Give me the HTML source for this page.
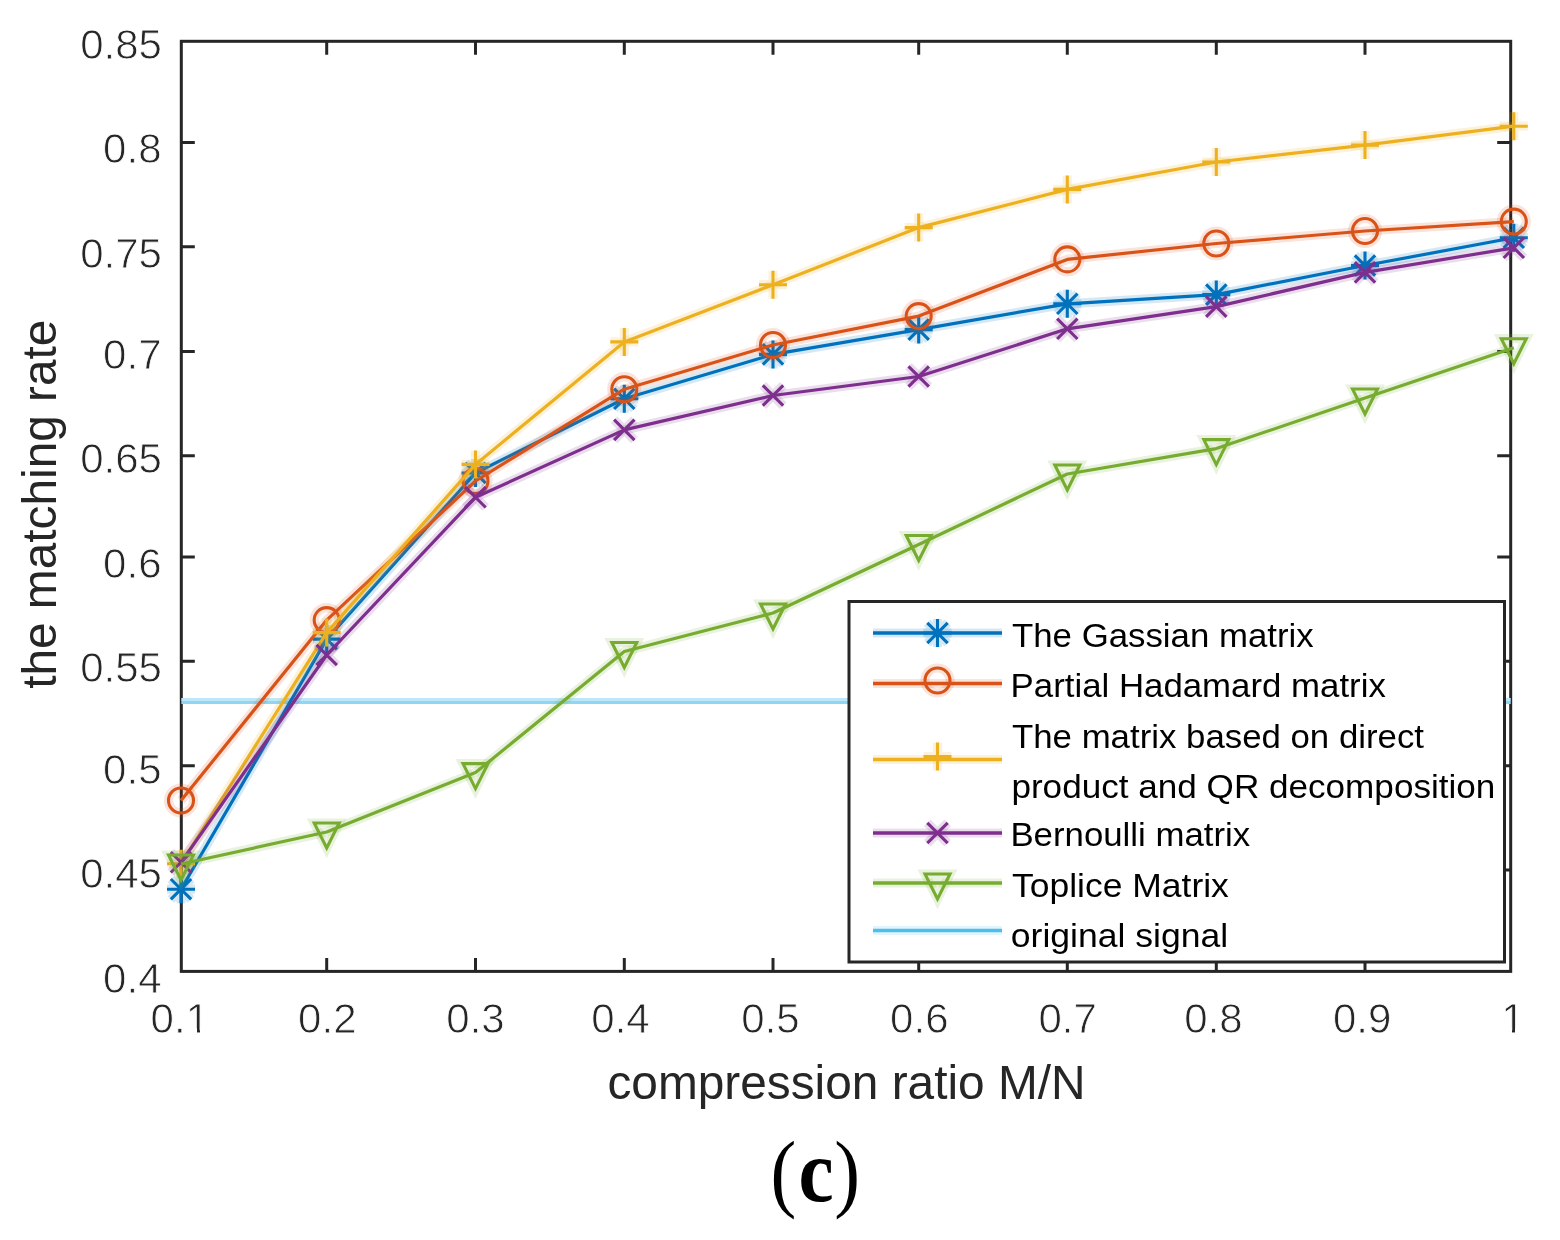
<!DOCTYPE html>
<html lang="en"><head><meta charset="utf-8"><title>Matching rate vs compression ratio (c)</title>
<style>
html,body{margin:0;padding:0;background:#fff;}
body{width:1560px;height:1240px;overflow:hidden;}
svg{display:block;}
text{font-family:"Liberation Sans",Arial,Helvetica,sans-serif;}
.tick{font-size:42px;fill:#262626;stroke:#fff;stroke-width:0.8px;}
.lab{font-size:47.8px;fill:#262626;}
.leg{font-size:33.8px;fill:#000;}
.cap{font-family:"Liberation Serif","DejaVu Serif",serif;font-size:88px;fill:#000;}
</style></head><body>
<svg width="1560" height="1240" viewBox="0 0 1560 1240" role="img" aria-label="The matching rate versus compression ratio M/N for six measurement matrices, panel (c)">
<rect x="0" y="0" width="1560" height="1240" fill="#ffffff"/>
<g id="chart">
<g id="axes" stroke="#262626" stroke-width="3" fill="none">
<rect x="181.3" y="41.3" width="1329.4" height="930.1"/>
<path d="M326.7 971.4v-13.5M326.7 41.3v13.5M475.5 971.4v-13.5M475.5 41.3v13.5M624.3 971.4v-13.5M624.3 41.3v13.5M773.0 971.4v-13.5M773.0 41.3v13.5M918.7 971.4v-13.5M918.7 41.3v13.5M1067.3 971.4v-13.5M1067.3 41.3v13.5M1216.3 971.4v-13.5M1216.3 41.3v13.5M1365.0 971.4v-13.5M1365.0 41.3v13.5M181.3 142.6h13.5M1510.7 142.6h-13.5M181.3 246.8h13.5M181.3 351.4h13.5M1510.7 351.4h-13.5M181.3 455.7h13.5M1510.7 455.7h-13.5M181.3 557.0h13.5M1510.7 557.0h-13.5M181.3 661.2h13.5M1510.7 661.2h-13.5M181.3 765.7h13.5M1510.7 765.7h-13.5M1510.7 870.1h-13.5"/>
</g>
<rect x="181.3" y="698" width="1329.4" height="3" fill="#BDE6F8"/>
<rect x="181.3" y="701" width="1329.4" height="3" fill="#8FD5F4"/>
<g id="series" fill="none" stroke-linejoin="round">
<g id="series-blue">
<polyline points="181.0,889.2 326.7,639.1 475.5,473.0 624.3,398.8 773.0,354.4 918.7,329.6 1067.3,303.8 1216.3,294.6 1365.0,265.5 1513.8,237.8" stroke="#0072BD" stroke-width="9.2" stroke-opacity="0.16"/>
<polyline points="181.0,889.2 326.7,639.1 475.5,473.0 624.3,398.8 773.0,354.4 918.7,329.6 1067.3,303.8 1216.3,294.6 1365.0,265.5 1513.8,237.8" stroke="#0072BD" stroke-width="3.2"/>
<path d="M181.0 875.2V903.2M167.0 889.2H195.0M170.8 879.0L191.2 899.4M170.8 899.4L191.2 879.0" stroke="#0072BD" stroke-width="9.2" stroke-opacity="0.16" fill="none"/><path d="M181.0 875.2V903.2M167.0 889.2H195.0M170.8 879.0L191.2 899.4M170.8 899.4L191.2 879.0" stroke="#0072BD" stroke-width="3.1" fill="none"/>
<path d="M326.7 625.1V653.1M312.7 639.1H340.7M316.5 628.9L336.9 649.3M316.5 649.3L336.9 628.9" stroke="#0072BD" stroke-width="9.2" stroke-opacity="0.16" fill="none"/><path d="M326.7 625.1V653.1M312.7 639.1H340.7M316.5 628.9L336.9 649.3M316.5 649.3L336.9 628.9" stroke="#0072BD" stroke-width="3.1" fill="none"/>
<path d="M475.5 459.0V487.0M461.5 473.0H489.5M465.3 462.8L485.7 483.2M465.3 483.2L485.7 462.8" stroke="#0072BD" stroke-width="9.2" stroke-opacity="0.16" fill="none"/><path d="M475.5 459.0V487.0M461.5 473.0H489.5M465.3 462.8L485.7 483.2M465.3 483.2L485.7 462.8" stroke="#0072BD" stroke-width="3.1" fill="none"/>
<path d="M624.3 384.8V412.8M610.3 398.8H638.3M614.1 388.6L634.5 409.0M614.1 409.0L634.5 388.6" stroke="#0072BD" stroke-width="9.2" stroke-opacity="0.16" fill="none"/><path d="M624.3 384.8V412.8M610.3 398.8H638.3M614.1 388.6L634.5 409.0M614.1 409.0L634.5 388.6" stroke="#0072BD" stroke-width="3.1" fill="none"/>
<path d="M773.0 340.4V368.4M759.0 354.4H787.0M762.8 344.2L783.2 364.6M762.8 364.6L783.2 344.2" stroke="#0072BD" stroke-width="9.2" stroke-opacity="0.16" fill="none"/><path d="M773.0 340.4V368.4M759.0 354.4H787.0M762.8 344.2L783.2 364.6M762.8 364.6L783.2 344.2" stroke="#0072BD" stroke-width="3.1" fill="none"/>
<path d="M918.7 315.6V343.6M904.7 329.6H932.7M908.5 319.4L928.9 339.8M908.5 339.8L928.9 319.4" stroke="#0072BD" stroke-width="9.2" stroke-opacity="0.16" fill="none"/><path d="M918.7 315.6V343.6M904.7 329.6H932.7M908.5 319.4L928.9 339.8M908.5 339.8L928.9 319.4" stroke="#0072BD" stroke-width="3.1" fill="none"/>
<path d="M1067.3 289.8V317.8M1053.3 303.8H1081.3M1057.1 293.6L1077.5 314.0M1057.1 314.0L1077.5 293.6" stroke="#0072BD" stroke-width="9.2" stroke-opacity="0.16" fill="none"/><path d="M1067.3 289.8V317.8M1053.3 303.8H1081.3M1057.1 293.6L1077.5 314.0M1057.1 314.0L1077.5 293.6" stroke="#0072BD" stroke-width="3.1" fill="none"/>
<path d="M1216.3 280.6V308.6M1202.3 294.6H1230.3M1206.1 284.4L1226.5 304.8M1206.1 304.8L1226.5 284.4" stroke="#0072BD" stroke-width="9.2" stroke-opacity="0.16" fill="none"/><path d="M1216.3 280.6V308.6M1202.3 294.6H1230.3M1206.1 284.4L1226.5 304.8M1206.1 304.8L1226.5 284.4" stroke="#0072BD" stroke-width="3.1" fill="none"/>
<path d="M1365.0 251.5V279.5M1351.0 265.5H1379.0M1354.8 255.3L1375.2 275.7M1354.8 275.7L1375.2 255.3" stroke="#0072BD" stroke-width="9.2" stroke-opacity="0.16" fill="none"/><path d="M1365.0 251.5V279.5M1351.0 265.5H1379.0M1354.8 255.3L1375.2 275.7M1354.8 275.7L1375.2 255.3" stroke="#0072BD" stroke-width="3.1" fill="none"/>
<path d="M1513.8 223.8V251.8M1499.8 237.8H1527.8M1503.6 227.6L1524.0 248.0M1503.6 248.0L1524.0 227.6" stroke="#0072BD" stroke-width="9.2" stroke-opacity="0.16" fill="none"/><path d="M1513.8 223.8V251.8M1499.8 237.8H1527.8M1503.6 227.6L1524.0 248.0M1503.6 248.0L1524.0 227.6" stroke="#0072BD" stroke-width="3.1" fill="none"/>
</g>
<g id="series-orange">
<polyline points="181.0,800.5 326.7,620.1 475.5,481.0 624.3,389.2 773.0,345.0 918.7,316.1 1067.3,259.4 1216.3,243.5 1365.0,231.0 1513.8,221.6" stroke="#D95319" stroke-width="9.2" stroke-opacity="0.16"/>
<polyline points="181.0,800.5 326.7,620.1 475.5,481.0 624.3,389.2 773.0,345.0 918.7,316.1 1067.3,259.4 1216.3,243.5 1365.0,231.0 1513.8,221.6" stroke="#D95319" stroke-width="3.2"/>
<circle cx="181.0" cy="800.5" r="12.5" stroke="#D95319" stroke-width="9.2" stroke-opacity="0.16" fill="none"/><circle cx="181.0" cy="800.5" r="12.5" stroke="#D95319" stroke-width="3.1" fill="none"/>
<circle cx="326.7" cy="620.1" r="12.5" stroke="#D95319" stroke-width="9.2" stroke-opacity="0.16" fill="none"/><circle cx="326.7" cy="620.1" r="12.5" stroke="#D95319" stroke-width="3.1" fill="none"/>
<circle cx="475.5" cy="481.0" r="12.5" stroke="#D95319" stroke-width="9.2" stroke-opacity="0.16" fill="none"/><circle cx="475.5" cy="481.0" r="12.5" stroke="#D95319" stroke-width="3.1" fill="none"/>
<circle cx="624.3" cy="389.2" r="12.5" stroke="#D95319" stroke-width="9.2" stroke-opacity="0.16" fill="none"/><circle cx="624.3" cy="389.2" r="12.5" stroke="#D95319" stroke-width="3.1" fill="none"/>
<circle cx="773.0" cy="345.0" r="12.5" stroke="#D95319" stroke-width="9.2" stroke-opacity="0.16" fill="none"/><circle cx="773.0" cy="345.0" r="12.5" stroke="#D95319" stroke-width="3.1" fill="none"/>
<circle cx="918.7" cy="316.1" r="12.5" stroke="#D95319" stroke-width="9.2" stroke-opacity="0.16" fill="none"/><circle cx="918.7" cy="316.1" r="12.5" stroke="#D95319" stroke-width="3.1" fill="none"/>
<circle cx="1067.3" cy="259.4" r="12.5" stroke="#D95319" stroke-width="9.2" stroke-opacity="0.16" fill="none"/><circle cx="1067.3" cy="259.4" r="12.5" stroke="#D95319" stroke-width="3.1" fill="none"/>
<circle cx="1216.3" cy="243.5" r="12.5" stroke="#D95319" stroke-width="9.2" stroke-opacity="0.16" fill="none"/><circle cx="1216.3" cy="243.5" r="12.5" stroke="#D95319" stroke-width="3.1" fill="none"/>
<circle cx="1365.0" cy="231.0" r="12.5" stroke="#D95319" stroke-width="9.2" stroke-opacity="0.16" fill="none"/><circle cx="1365.0" cy="231.0" r="12.5" stroke="#D95319" stroke-width="3.1" fill="none"/>
<circle cx="1513.8" cy="221.6" r="12.5" stroke="#D95319" stroke-width="9.2" stroke-opacity="0.16" fill="none"/><circle cx="1513.8" cy="221.6" r="12.5" stroke="#D95319" stroke-width="3.1" fill="none"/>
</g>
<g id="series-yellow">
<polyline points="181.0,863.7 326.7,632.6 475.5,464.4 624.3,341.9 773.0,284.7 918.7,227.6 1067.3,189.4 1216.3,162.0 1365.0,145.1 1513.8,126.2" stroke="#EDB120" stroke-width="9.2" stroke-opacity="0.16"/>
<polyline points="181.0,863.7 326.7,632.6 475.5,464.4 624.3,341.9 773.0,284.7 918.7,227.6 1067.3,189.4 1216.3,162.0 1365.0,145.1 1513.8,126.2" stroke="#EDB120" stroke-width="3.2"/>
<path d="M181.0 849.7V877.7M167.0 863.7H195.0" stroke="#EDB120" stroke-width="9.2" stroke-opacity="0.16" fill="none"/><path d="M181.0 849.7V877.7M167.0 863.7H195.0" stroke="#EDB120" stroke-width="3.1" fill="none"/>
<path d="M326.7 618.6V646.6M312.7 632.6H340.7" stroke="#EDB120" stroke-width="9.2" stroke-opacity="0.16" fill="none"/><path d="M326.7 618.6V646.6M312.7 632.6H340.7" stroke="#EDB120" stroke-width="3.1" fill="none"/>
<path d="M475.5 450.4V478.4M461.5 464.4H489.5" stroke="#EDB120" stroke-width="9.2" stroke-opacity="0.16" fill="none"/><path d="M475.5 450.4V478.4M461.5 464.4H489.5" stroke="#EDB120" stroke-width="3.1" fill="none"/>
<path d="M624.3 327.9V355.9M610.3 341.9H638.3" stroke="#EDB120" stroke-width="9.2" stroke-opacity="0.16" fill="none"/><path d="M624.3 327.9V355.9M610.3 341.9H638.3" stroke="#EDB120" stroke-width="3.1" fill="none"/>
<path d="M773.0 270.7V298.7M759.0 284.7H787.0" stroke="#EDB120" stroke-width="9.2" stroke-opacity="0.16" fill="none"/><path d="M773.0 270.7V298.7M759.0 284.7H787.0" stroke="#EDB120" stroke-width="3.1" fill="none"/>
<path d="M918.7 213.6V241.6M904.7 227.6H932.7" stroke="#EDB120" stroke-width="9.2" stroke-opacity="0.16" fill="none"/><path d="M918.7 213.6V241.6M904.7 227.6H932.7" stroke="#EDB120" stroke-width="3.1" fill="none"/>
<path d="M1067.3 175.4V203.4M1053.3 189.4H1081.3" stroke="#EDB120" stroke-width="9.2" stroke-opacity="0.16" fill="none"/><path d="M1067.3 175.4V203.4M1053.3 189.4H1081.3" stroke="#EDB120" stroke-width="3.1" fill="none"/>
<path d="M1216.3 148.0V176.0M1202.3 162.0H1230.3" stroke="#EDB120" stroke-width="9.2" stroke-opacity="0.16" fill="none"/><path d="M1216.3 148.0V176.0M1202.3 162.0H1230.3" stroke="#EDB120" stroke-width="3.1" fill="none"/>
<path d="M1365.0 131.1V159.1M1351.0 145.1H1379.0" stroke="#EDB120" stroke-width="9.2" stroke-opacity="0.16" fill="none"/><path d="M1365.0 131.1V159.1M1351.0 145.1H1379.0" stroke="#EDB120" stroke-width="3.1" fill="none"/>
<path d="M1513.8 112.2V140.2M1499.8 126.2H1527.8" stroke="#EDB120" stroke-width="9.2" stroke-opacity="0.16" fill="none"/><path d="M1513.8 112.2V140.2M1499.8 126.2H1527.8" stroke="#EDB120" stroke-width="3.1" fill="none"/>
</g>
<g id="series-purple">
<polyline points="181.0,862.3 326.7,655.0 475.5,497.3 624.3,429.9 773.0,395.5 918.7,376.5 1067.3,328.8 1216.3,306.6 1365.0,272.4 1513.8,247.8" stroke="#7E2F8E" stroke-width="9.2" stroke-opacity="0.16"/>
<polyline points="181.0,862.3 326.7,655.0 475.5,497.3 624.3,429.9 773.0,395.5 918.7,376.5 1067.3,328.8 1216.3,306.6 1365.0,272.4 1513.8,247.8" stroke="#7E2F8E" stroke-width="3.2"/>
<path d="M170.8 852.1L191.2 872.5M170.8 872.5L191.2 852.1" stroke="#7E2F8E" stroke-width="9.2" stroke-opacity="0.16" fill="none"/><path d="M170.8 852.1L191.2 872.5M170.8 872.5L191.2 852.1" stroke="#7E2F8E" stroke-width="3.1" fill="none"/>
<path d="M316.5 644.8L336.9 665.2M316.5 665.2L336.9 644.8" stroke="#7E2F8E" stroke-width="9.2" stroke-opacity="0.16" fill="none"/><path d="M316.5 644.8L336.9 665.2M316.5 665.2L336.9 644.8" stroke="#7E2F8E" stroke-width="3.1" fill="none"/>
<path d="M465.3 487.1L485.7 507.5M465.3 507.5L485.7 487.1" stroke="#7E2F8E" stroke-width="9.2" stroke-opacity="0.16" fill="none"/><path d="M465.3 487.1L485.7 507.5M465.3 507.5L485.7 487.1" stroke="#7E2F8E" stroke-width="3.1" fill="none"/>
<path d="M614.1 419.7L634.5 440.1M614.1 440.1L634.5 419.7" stroke="#7E2F8E" stroke-width="9.2" stroke-opacity="0.16" fill="none"/><path d="M614.1 419.7L634.5 440.1M614.1 440.1L634.5 419.7" stroke="#7E2F8E" stroke-width="3.1" fill="none"/>
<path d="M762.8 385.3L783.2 405.7M762.8 405.7L783.2 385.3" stroke="#7E2F8E" stroke-width="9.2" stroke-opacity="0.16" fill="none"/><path d="M762.8 385.3L783.2 405.7M762.8 405.7L783.2 385.3" stroke="#7E2F8E" stroke-width="3.1" fill="none"/>
<path d="M908.5 366.3L928.9 386.7M908.5 386.7L928.9 366.3" stroke="#7E2F8E" stroke-width="9.2" stroke-opacity="0.16" fill="none"/><path d="M908.5 366.3L928.9 386.7M908.5 386.7L928.9 366.3" stroke="#7E2F8E" stroke-width="3.1" fill="none"/>
<path d="M1057.1 318.6L1077.5 339.0M1057.1 339.0L1077.5 318.6" stroke="#7E2F8E" stroke-width="9.2" stroke-opacity="0.16" fill="none"/><path d="M1057.1 318.6L1077.5 339.0M1057.1 339.0L1077.5 318.6" stroke="#7E2F8E" stroke-width="3.1" fill="none"/>
<path d="M1206.1 296.4L1226.5 316.8M1206.1 316.8L1226.5 296.4" stroke="#7E2F8E" stroke-width="9.2" stroke-opacity="0.16" fill="none"/><path d="M1206.1 296.4L1226.5 316.8M1206.1 316.8L1226.5 296.4" stroke="#7E2F8E" stroke-width="3.1" fill="none"/>
<path d="M1354.8 262.2L1375.2 282.6M1354.8 282.6L1375.2 262.2" stroke="#7E2F8E" stroke-width="9.2" stroke-opacity="0.16" fill="none"/><path d="M1354.8 262.2L1375.2 282.6M1354.8 282.6L1375.2 262.2" stroke="#7E2F8E" stroke-width="3.1" fill="none"/>
<path d="M1503.6 237.6L1524.0 258.0M1503.6 258.0L1524.0 237.6" stroke="#7E2F8E" stroke-width="9.2" stroke-opacity="0.16" fill="none"/><path d="M1503.6 237.6L1524.0 258.0M1503.6 258.0L1524.0 237.6" stroke="#7E2F8E" stroke-width="3.1" fill="none"/>
</g>
<g id="series-green">
<polyline points="181.0,864.0 326.7,832.0 475.5,772.6 624.3,651.5 773.0,613.0 918.7,544.5 1067.3,474.0 1216.3,448.6 1365.0,398.0 1513.8,347.7" stroke="#77AC30" stroke-width="9.2" stroke-opacity="0.16"/>
<polyline points="181.0,864.0 326.7,832.0 475.5,772.6 624.3,651.5 773.0,613.0 918.7,544.5 1067.3,474.0 1216.3,448.6 1365.0,398.0 1513.8,347.7" stroke="#77AC30" stroke-width="3.2"/>
<path d="M168.5 855.0H193.5L181.0 880.0Z" stroke="#77AC30" stroke-width="9.2" stroke-opacity="0.16" fill="none" stroke-linejoin="miter"/><path d="M168.5 855.0H193.5L181.0 880.0Z" stroke="#77AC30" stroke-width="3.1" fill="none" stroke-linejoin="miter"/>
<path d="M314.2 823.0H339.2L326.7 848.0Z" stroke="#77AC30" stroke-width="9.2" stroke-opacity="0.16" fill="none" stroke-linejoin="miter"/><path d="M314.2 823.0H339.2L326.7 848.0Z" stroke="#77AC30" stroke-width="3.1" fill="none" stroke-linejoin="miter"/>
<path d="M463.0 763.6H488.0L475.5 788.6Z" stroke="#77AC30" stroke-width="9.2" stroke-opacity="0.16" fill="none" stroke-linejoin="miter"/><path d="M463.0 763.6H488.0L475.5 788.6Z" stroke="#77AC30" stroke-width="3.1" fill="none" stroke-linejoin="miter"/>
<path d="M611.8 642.5H636.8L624.3 667.5Z" stroke="#77AC30" stroke-width="9.2" stroke-opacity="0.16" fill="none" stroke-linejoin="miter"/><path d="M611.8 642.5H636.8L624.3 667.5Z" stroke="#77AC30" stroke-width="3.1" fill="none" stroke-linejoin="miter"/>
<path d="M760.5 604.0H785.5L773.0 629.0Z" stroke="#77AC30" stroke-width="9.2" stroke-opacity="0.16" fill="none" stroke-linejoin="miter"/><path d="M760.5 604.0H785.5L773.0 629.0Z" stroke="#77AC30" stroke-width="3.1" fill="none" stroke-linejoin="miter"/>
<path d="M906.2 535.5H931.2L918.7 560.5Z" stroke="#77AC30" stroke-width="9.2" stroke-opacity="0.16" fill="none" stroke-linejoin="miter"/><path d="M906.2 535.5H931.2L918.7 560.5Z" stroke="#77AC30" stroke-width="3.1" fill="none" stroke-linejoin="miter"/>
<path d="M1054.8 465.0H1079.8L1067.3 490.0Z" stroke="#77AC30" stroke-width="9.2" stroke-opacity="0.16" fill="none" stroke-linejoin="miter"/><path d="M1054.8 465.0H1079.8L1067.3 490.0Z" stroke="#77AC30" stroke-width="3.1" fill="none" stroke-linejoin="miter"/>
<path d="M1203.8 439.6H1228.8L1216.3 464.6Z" stroke="#77AC30" stroke-width="9.2" stroke-opacity="0.16" fill="none" stroke-linejoin="miter"/><path d="M1203.8 439.6H1228.8L1216.3 464.6Z" stroke="#77AC30" stroke-width="3.1" fill="none" stroke-linejoin="miter"/>
<path d="M1352.5 389.0H1377.5L1365.0 414.0Z" stroke="#77AC30" stroke-width="9.2" stroke-opacity="0.16" fill="none" stroke-linejoin="miter"/><path d="M1352.5 389.0H1377.5L1365.0 414.0Z" stroke="#77AC30" stroke-width="3.1" fill="none" stroke-linejoin="miter"/>
<path d="M1501.3 338.7H1526.3L1513.8 363.7Z" stroke="#77AC30" stroke-width="9.2" stroke-opacity="0.16" fill="none" stroke-linejoin="miter"/><path d="M1501.3 338.7H1526.3L1513.8 363.7Z" stroke="#77AC30" stroke-width="3.1" fill="none" stroke-linejoin="miter"/>
</g>
</g>
<text class="tick" transform="translate(150.60 1033.20) scale(1.0000 1)">0.1</text>
<text class="tick" transform="translate(298.10 1033.20) scale(1.0000 1)">0.2</text>
<text class="tick" transform="translate(446.30 1033.20) scale(1.0000 1)">0.3</text>
<text class="tick" transform="translate(591.30 1033.20) scale(1.0000 1)">0.4</text>
<text class="tick" transform="translate(741.30 1033.20) scale(1.0000 1)">0.5</text>
<text class="tick" transform="translate(890.10 1033.20) scale(1.0000 1)">0.6</text>
<text class="tick" transform="translate(1038.40 1033.20) scale(1.0000 1)">0.7</text>
<text class="tick" transform="translate(1184.30 1033.20) scale(1.0000 1)">0.8</text>
<text class="tick" transform="translate(1333.00 1033.20) scale(1.0000 1)">0.9</text>
<text class="tick" transform="translate(1501.30 1033.20) scale(1.0000 1)">1</text>
<text class="tick" transform="translate(80.20 59.20) scale(1.0000 1)">0.85</text>
<text class="tick" transform="translate(103.10 163.30) scale(1.0000 1)">0.8</text>
<text class="tick" transform="translate(80.20 267.80) scale(1.0000 1)">0.75</text>
<text class="tick" transform="translate(103.10 369.20) scale(1.0000 1)">0.7</text>
<text class="tick" transform="translate(80.20 473.30) scale(1.0000 1)">0.65</text>
<text class="tick" transform="translate(103.10 577.90) scale(1.0000 1)">0.6</text>
<text class="tick" transform="translate(80.20 682.20) scale(1.0000 1)">0.55</text>
<text class="tick" transform="translate(103.10 783.60) scale(1.0000 1)">0.5</text>
<text class="tick" transform="translate(80.20 888.10) scale(1.0000 1)">0.45</text>
<text class="tick" transform="translate(103.10 992.50) scale(1.0000 1)">0.4</text>
<rect x="187.00" y="1028.30" width="10.00" height="7.70" fill="#fff"/>
<rect x="200.00" y="1028.30" width="10.00" height="7.70" fill="#fff"/>
<rect x="1502.00" y="1028.30" width="10.00" height="7.70" fill="#fff"/>
<rect x="1515.00" y="1028.30" width="10.00" height="7.70" fill="#fff"/>
<text class="lab" text-anchor="middle" x="846.5" y="1099">compression ratio M/N</text>
<text class="lab" text-anchor="middle" transform="translate(56 504.2) rotate(-90)">the matching rate</text>
<g id="legend">
<rect x="849.0" y="601.5" width="655.5" height="360.5" fill="#fff" stroke="#262626" stroke-width="3"/>
<line x1="873" y1="633.0" x2="1002" y2="633.0" stroke="#0072BD" stroke-width="9.2" stroke-opacity="0.16"/>
<line x1="873" y1="633.0" x2="1002" y2="633.0" stroke="#0072BD" stroke-width="3.4"/>
<path d="M937.5 619.0V647.0M923.5 633.0H951.5M927.3 622.8L947.7 643.2M927.3 643.2L947.7 622.8" stroke="#0072BD" stroke-width="9.2" stroke-opacity="0.16" fill="none"/><path d="M937.5 619.0V647.0M923.5 633.0H951.5M927.3 622.8L947.7 643.2M927.3 643.2L947.7 622.8" stroke="#0072BD" stroke-width="3.1" fill="none"/>
<text class="leg" transform="translate(1012.0 646.5) scale(1.0300 1)">The Gassian matrix</text>
<line x1="873" y1="683.5" x2="1002" y2="683.5" stroke="#D95319" stroke-width="9.2" stroke-opacity="0.16"/>
<line x1="873" y1="683.5" x2="1002" y2="683.5" stroke="#D95319" stroke-width="3.4"/>
<circle cx="937.5" cy="680.5" r="12.5" stroke="#D95319" stroke-width="9.2" stroke-opacity="0.16" fill="none"/><circle cx="937.5" cy="680.5" r="12.5" stroke="#D95319" stroke-width="3.1" fill="none"/>
<text class="leg" transform="translate(1010.6 697.0) scale(1.0300 1)">Partial Hadamard matrix</text>
<line x1="873" y1="759.5" x2="1002" y2="759.5" stroke="#EDB120" stroke-width="9.2" stroke-opacity="0.16"/>
<line x1="873" y1="759.5" x2="1002" y2="759.5" stroke="#EDB120" stroke-width="3.4"/>
<path d="M937.5 742.5V770.5M923.5 756.5H951.5" stroke="#EDB120" stroke-width="9.2" stroke-opacity="0.16" fill="none"/><path d="M937.5 742.5V770.5M923.5 756.5H951.5" stroke="#EDB120" stroke-width="3.1" fill="none"/>
<text class="leg" transform="translate(1012.0 747.5) scale(1.0300 1)">The matrix based on direct</text>
<text class="leg" transform="translate(1011.4 797.5) scale(1.0390 1)">product and QR decomposition</text>
<line x1="873" y1="833.0" x2="1002" y2="833.0" stroke="#7E2F8E" stroke-width="9.2" stroke-opacity="0.16"/>
<line x1="873" y1="833.0" x2="1002" y2="833.0" stroke="#7E2F8E" stroke-width="3.4"/>
<path d="M927.3 822.8L947.7 843.2M927.3 843.2L947.7 822.8" stroke="#7E2F8E" stroke-width="9.2" stroke-opacity="0.16" fill="none"/><path d="M927.3 822.8L947.7 843.2M927.3 843.2L947.7 822.8" stroke="#7E2F8E" stroke-width="3.1" fill="none"/>
<text class="leg" transform="translate(1010.4 846.0) scale(1.0300 1)">Bernoulli matrix</text>
<line x1="873" y1="883.0" x2="1002" y2="883.0" stroke="#77AC30" stroke-width="9.2" stroke-opacity="0.16"/>
<line x1="873" y1="883.0" x2="1002" y2="883.0" stroke="#77AC30" stroke-width="3.4"/>
<path d="M925.0 874.0H950.0L937.5 899.0Z" stroke="#77AC30" stroke-width="9.2" stroke-opacity="0.16" fill="none" stroke-linejoin="miter"/><path d="M925.0 874.0H950.0L937.5 899.0Z" stroke="#77AC30" stroke-width="3.1" fill="none" stroke-linejoin="miter"/>
<text class="leg" transform="translate(1012.0 896.5) scale(1.0500 1)">Toplice Matrix</text>
<line x1="873" y1="930.5" x2="1002" y2="930.5" stroke="#4DBEEE" stroke-width="9.2" stroke-opacity="0.16"/>
<line x1="873" y1="930.5" x2="1002" y2="930.5" stroke="#4DBEEE" stroke-width="3.4"/>
<text class="leg" transform="translate(1010.8 946.7) scale(1.0520 1)">original signal</text>
</g>
<text class="cap" transform="translate(0 1201.2) scale(0.9 1)"><tspan x="856.1" y="-0.4" font-size="86px">(</tspan><tspan x="887.2" y="0" font-weight="bold">c</tspan><tspan x="927.0" y="-0.4" font-size="86px">)</tspan></text>
</g>
</svg>
</body></html>
